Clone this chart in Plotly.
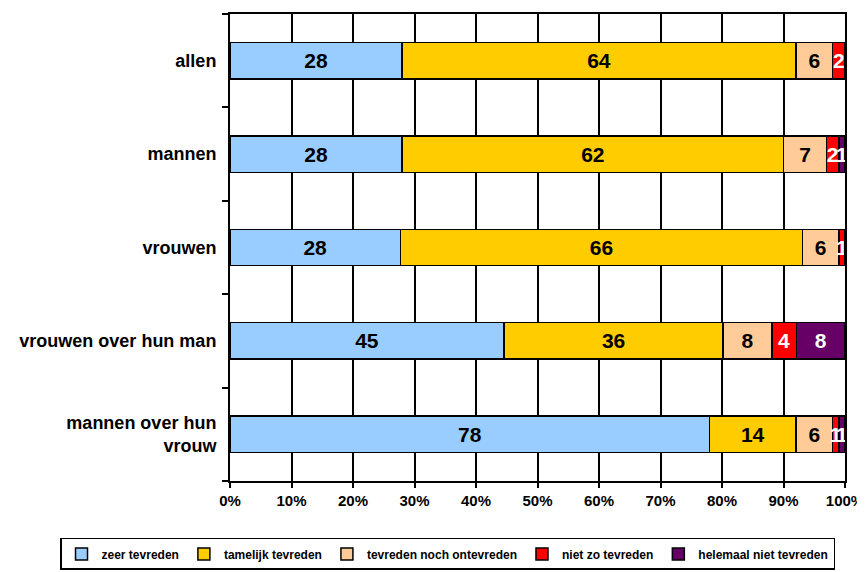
import plotly.graph_objects as go

categories = ["allen", "mannen", "vrouwen", "vrouwen over hun man", "mannen over hun<br>vrouw"]
series_names = ["zeer tevreden", "tamelijk tevreden", "tevreden noch ontevreden",
                "niet zo tevreden", "helemaal niet tevreden"]
zeer = [28, 28, 28, 45, 78]
tamelijk = [64, 62, 66, 36, 14]
noch = [6, 7, 6, 8, 6]
niet_zo = [2, 2, 1, 4, 1]
helemaal = [0, 1, 0, 8, 1]
x_ticks = [0, 10, 20, 30, 40, 50, 60, 70, 80, 90, 100]
x_tick_labels = [f"{t}%" for t in x_ticks]

series = [zeer, tamelijk, noch, niet_zo, helemaal]
colors = ["#99CCFF", "#FFCC00", "#FFCC99", "#FF0000", "#660066"]
text_colors = ["black", "black", "black", "white", "white"]

fig = go.Figure()
for name, vals, col, tcol in zip(series_names, series, colors, text_colors):
    fig.add_trace(go.Bar(
        y=categories, x=vals, name=name, orientation="h",
        marker=dict(color=col, line=dict(color="black", width=1.5)),
        text=[str(v) if v > 0 else "" for v in vals],
        textposition="inside", insidetextanchor="middle",
        textfont=dict(family="Liberation Sans", size=21, color=tcol, weight="bold"),
        cliponaxis=False,
    ))

fig.update_layout(
    barmode="stack", barnorm="percent", bargap=0.61,
    width=857, height=564,
    margin=dict(l=222, r=20, t=6, b=91, autoexpand=False),
    paper_bgcolor="white", plot_bgcolor="white",
    font=dict(family="Liberation Sans", color="black"),
    uniformtext=dict(mode="show", minsize=21),
    showlegend=True,
    legend=dict(orientation="h", x=-0.2764, xanchor="left", y=-0.122, yanchor="top",
                bordercolor="black", borderwidth=1.5, bgcolor="white",
                font=dict(size=12, weight="bold"), traceorder="normal",
                itemwidth=30),
    xaxis=dict(range=[0, 100], tickvals=x_ticks, ticktext=x_tick_labels,
               showgrid=True, gridcolor="black", gridwidth=2,
               showline=True, linecolor="black", linewidth=2, mirror=True,
               ticks="outside", ticklen=5, tickwidth=2, tickcolor="black",
               tickfont=dict(size=15, weight="bold"), zeroline=False, fixedrange=True),
    yaxis=dict(categoryorder="array", categoryarray=categories[::-1],
               showline=True, linecolor="black", linewidth=2, mirror=True,
               ticks="outside", ticklen=6, tickwidth=2, tickcolor="black",
               tickson="boundaries", showgrid=False,
               tickfont=dict(size=18, weight="bold"), ticklabelstandoff=8),
)

fig.write_html("out.html")
